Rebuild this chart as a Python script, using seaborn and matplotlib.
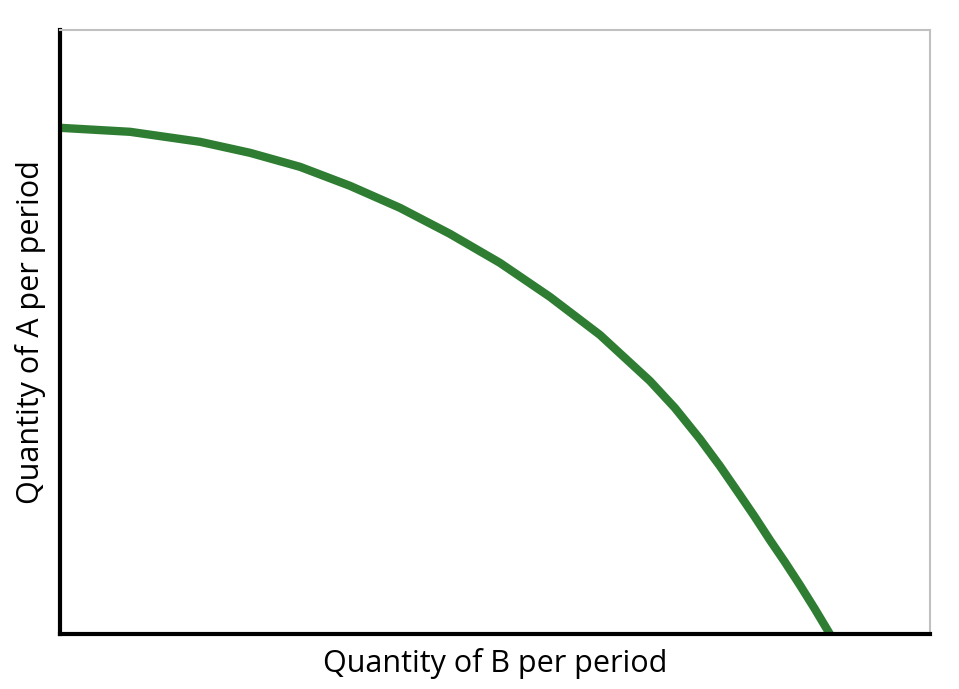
import matplotlib
matplotlib.use("Agg")
import matplotlib.pyplot as plt
import seaborn as sns
import pandas as pd

# (axis units = pixels from origin)
quantity_b = [0, 70, 140, 190, 240, 290, 340, 390, 440, 490, 540, 590, 615,
              640, 660, 680, 695, 710, 725, 740, 755, 770]
quantity_a = [506, 502, 492, 481, 467, 448, 426, 400, 371, 337, 299, 253, 226,
              195, 168, 139, 117, 94, 72, 49, 25, 0]

sns.set_style("white")
plt.rcParams['font.family'] = ['Open Sans', 'DejaVu Sans']

fig = plt.figure(figsize=(9.59, 6.89), dpi=100)
ax = fig.add_axes([0.0626, 0.0798, 0.907, 0.877])
df = pd.DataFrame({'b': quantity_b, 'a': quantity_a})
sns.lineplot(data=df, x='b', y='a', ax=ax, color='#2e7d32', lw=6,
             sort=False, estimator=None)
ax.set_xlim(0, 870)
ax.set_ylim(0, 604)
ax.set_xticks([])
ax.set_yticks([])
for s in ['left', 'bottom']:
    ax.spines[s].set_linewidth(3)
    ax.spines[s].set_color('black')
for s in ['top', 'right']:
    ax.spines[s].set_linewidth(1.5)
    ax.spines[s].set_color('#c0c0c0')
ax.set_xlabel('Quantity of B per period', fontsize=22, labelpad=10, color='black')
ax.set_ylabel('Quantity of A per period', fontsize=22, labelpad=10, color='black')
fig.savefig('out.png', dpi=100)
